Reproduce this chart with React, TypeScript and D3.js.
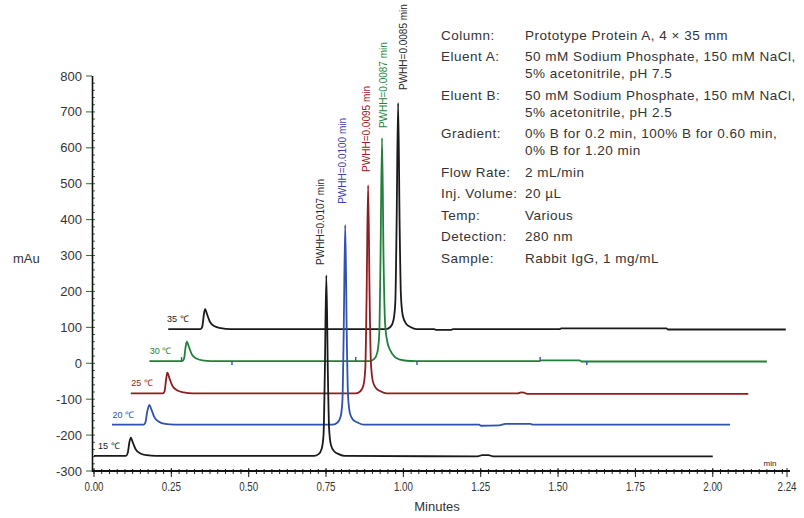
import React from 'react';
import * as d3 from 'd3';

const WIDTH = 804;
const HEIGHT = 518;

// [retention time (min), absorbance (mAu)]
const trace15 = [
  [0, -258], [0.103, -258], [0.109, -250], [0.114, -222], [0.119, -207], [0.126, -222], [0.135, -240],
  [0.15, -251], [0.17, -256], [0.2, -258], [0.711, -258], [0.726, -253], [0.736, -238], [0.742, -198],
  [0.746, -32], [0.751, 245], [0.756, -32], [0.76, -183], [0.766, -228], [0.776, -245], [0.791, -253],
  [0.811, -258], [1.24, -259], [1.255, -256], [1.275, -256], [1.29, -259], [2.0, -259],
];
const trace20 = [
  [0.058, -171], [0.16, -171], [0.166, -165], [0.172, -135], [0.179, -116], [0.186, -130], [0.195, -150],
  [0.21, -163], [0.23, -169], [0.26, -171], [0.772, -171], [0.787, -165], [0.797, -149], [0.803, -104],
  [0.807, 79], [0.812, 385], [0.817, 79], [0.821, -88], [0.827, -138], [0.837, -157], [0.852, -165],
  [0.872, -171], [1.245, -171], [1.25, -174], [1.31, -173], [1.33, -169], [1.41, -169], [1.42, -171],
  [2.056, -171],
];
const trace25 = [
  [0.119, -84], [0.222, -84], [0.228, -78], [0.233, -45], [0.237, -26], [0.244, -42], [0.253, -62],
  [0.268, -75], [0.29, -81], [0.32, -84], [0.846, -84], [0.861, -78], [0.871, -61], [0.877, -14],
  [0.881, 177], [0.886, 496], [0.891, 177], [0.895, 3], [0.901, -49], [0.911, -69], [0.926, -78],
  [0.946, -84], [1.37, -84], [1.38, -81], [1.39, -82], [1.4, -85], [2.115, -85],
];
const trace30 = [
  [0.179, 6], [0.285, 6], [0.291, 13], [0.296, 45], [0.3, 60], [0.307, 45], [0.316, 25], [0.331, 13],
  [0.35, 8], [0.38, 6], [0.891, 6], [0.906, 12], [0.916, 31], [0.922, 81], [0.926, 285], [0.931, 627],
  [0.936, 285], [0.941, 110], [0.948, 60], [0.958, 35], [0.972, 18], [0.99, 10], [1.01, 7], [1.04, 6],
  [1.44, 6], [1.445, 8], [1.57, 8], [1.575, 5], [2.175, 5],
];
const trace35 = [
  [0.24, 95], [0.344, 95], [0.35, 102], [0.355, 135], [0.359, 151], [0.366, 135], [0.375, 115],
  [0.39, 103], [0.41, 98], [0.44, 95], [0.943, 95], [0.958, 101], [0.968, 120], [0.974, 171],
  [0.978, 379], [0.983, 725], [0.988, 379], [0.992, 190], [0.998, 133], [1.008, 111], [1.023, 101],
  [1.043, 95], [1.1, 95], [1.105, 93], [1.155, 93], [1.16, 95], [1.505, 95], [1.51, 97], [1.85, 97],
  [1.855, 94], [2.236, 94],
];

const temps = ['15 ℃', '20 ℃', '25 ℃', '30 ℃', '35 ℃'];
const traceColors = ['#1a1a1a', '#2f52b0', '#8f1c20', '#23803a', '#1a1a1a'];
const tempLabelTime = [0.013, 0.06, 0.12, 0.18, 0.236];
const baselines = [-258, -171, -84, 6, 95];

const pwhhText = ['PWHH=0.0107 min', 'PWHH=0.0100 min', 'PWHH=0.0095 min', 'PWHH=0.0087 min', 'PWHH=0.0085 min'];
const pwhhColors = ['#2a2a2a', '#3a3fb0', '#a01818', '#23883a', '#2a2a2a'];
const pwhhTime = [0.734, 0.806, 0.883, 0.938, 1.001];
const pwhhValue = [274, 444, 533, 655, 761];

// little integration marks on the 30 ℃ trace
const markTime = [0.283, 0.446, 0.846, 1.044, 1.442, 1.593];
const markDir = [1, -1, 1, -1, 1, -1];

const xTickValues = [0, 0.25, 0.5, 0.75, 1.0, 1.25, 1.5, 1.75, 2.0, 2.24];
const xTickLabels = ['0.00', '0.25', '0.50', '0.75', '1.00', '1.25', '1.50', '1.75', '2.00', '2.24'];
const yTickValues = [-300, -200, -100, 0, 100, 200, 300, 400, 500, 600, 700, 800];

const infoKeys = ['Column:', 'Eluent A:', '', 'Eluent B:', '', 'Gradient:', '', 'Flow Rate:', 'Inj. Volume:', 'Temp:', 'Detection:', 'Sample:'];
const infoValues = [
  'Prototype Protein A, 4 × 35 mm',
  '50 mM Sodium Phosphate, 150 mM NaCl,',
  '5% acetonitrile, pH 7.5',
  '50 mM Sodium Phosphate, 150 mM NaCl,',
  '5% acetonitrile, pH 2.5',
  '0% B for 0.2 min, 100% B for 0.60 min,',
  '0% B for 1.20 min',
  '2 mL/min',
  '20 µL',
  'Various',
  '280 nm',
  'Rabbit IgG, 1 mg/mL',
];

const traces = [trace15, trace20, trace25, trace30, trace35];

const FONT = '"Liberation Sans", Arial, sans-serif';

const App = () => {
  const x = d3.scaleLinear().domain([0, 2.24]).range([94, 787]);
  const y = d3.scaleLinear().domain([-300, 800]).range([471, 76]);

  const line = d3.line<number[]>()
    .x(d => x(d[0]))
    .y(d => y(d[1]))
    .curve(d3.curveMonotoneX);

  const minorY = d3.range(-300, 800, 20);
  const minorX = d3.range(0, 2.24, 0.025);

  // row positions of the info block
  const rowY: number[] = [];
  let yy = 35;
  infoKeys.forEach((k, i) => {
    if (i > 0) yy += k === '' ? 17 : 21.5;
    rowY.push(yy);
  });

  return (
    <svg width={WIDTH} height={HEIGHT} style={{ position: 'absolute', left: 0, top: 0, background: '#fff' }}
      fontFamily={FONT}>
      {/* y axis */}
      <g>
        {minorY.map(v => (
          <line key={'my' + v} x1={92} x2={95} y1={y(v)} y2={y(v)} stroke="#2d6b3a" strokeWidth={1} />
        ))}
        {yTickValues.map(v => (
          <g key={'y' + v}>
            <line x1={86} x2={92} y1={y(v)} y2={y(v)} stroke="#2d6b3a" strokeWidth={1} />
            <text x={82} y={y(v)} dy="0.35em" textAnchor="end" fontSize={13} fill="#333">{v}</text>
          </g>
        ))}
        <line x1={92.5} x2={92.5} y1={y(800)} y2={y(-300) + 1} stroke="#111" strokeWidth={1.6} />
        <text x={13} y={258} dy="0.35em" fontSize={13} fill="#333">mAu</text>
      </g>

      {/* x axis */}
      <g>
        {minorX.map(v => (
          <line key={'mx' + v} x1={x(v)} x2={x(v)} y1={y(-300) - 2} y2={y(-300) + 3} stroke="#222" strokeWidth={1} />
        ))}
        {xTickValues.map((v, i) => (
          <g key={'x' + v}>
            <line x1={x(v)} x2={x(v)} y1={y(-300) - 3} y2={y(-300) + 6} stroke="#222" strokeWidth={1} />
            <text x={x(v)} y={486} dy="0.35em" textAnchor="middle" fontSize={13} fill="#333"
              textLength={19} lengthAdjust="spacingAndGlyphs">{xTickLabels[i]}</text>
          </g>
        ))}
        <line x1={92} x2={790} y1={y(-300)} y2={y(-300)} stroke="#111" strokeWidth={1.8} />
        <text x={770} y={466} fontSize={8} fill="#222" textAnchor="middle">min</text>
        <text x={437} y={506} dy="0.35em" textAnchor="middle" fontSize={13} fill="#333">Minutes</text>
      </g>

      {/* traces, back to front */}
      {traces.map((t, i) => i).reverse().map(i => (
        <path key={'t' + i} d={line(traces[i]) || ''} fill="none" stroke={traceColors[i]}
          strokeWidth={1.8} strokeLinejoin="round" />
      ))}

      {markTime.map((t, i) => (
        <line key={'mk' + i} x1={x(t)} x2={x(t)} y1={y(baselines[3])}
          y2={y(baselines[3]) + (markDir[i] > 0 ? -4 : 4)} stroke="#2f52b0" strokeWidth={1.4} />
      ))}

      {temps.map((lbl, i) => (
        <text key={'tl' + i} x={x(tempLabelTime[i])} y={y(baselines[i]) - 7} fontSize={9}
          fill={traceColors[i]}>{lbl}</text>
      ))}

      {pwhhText.map((lbl, i) => (
        <text key={'pw' + i} transform={`translate(${x(pwhhTime[i]) + 3},${y(pwhhValue[i])}) rotate(-90)`}
          fontSize={10} fill={pwhhColors[i]}>{lbl}</text>
      ))}

      {/* method details */}
      <g fontSize={13.5} fill="#333" letterSpacing={0.5}>
        {infoKeys.map((k, i) => (
          <g key={'info' + i}>
            {k !== '' && <text x={441} y={rowY[i]} dy="0.35em">{k}</text>}
            <text x={525} y={rowY[i]} dy="0.35em">{infoValues[i]}</text>
          </g>
        ))}
      </g>
    </svg>
  );
};

export default App;
